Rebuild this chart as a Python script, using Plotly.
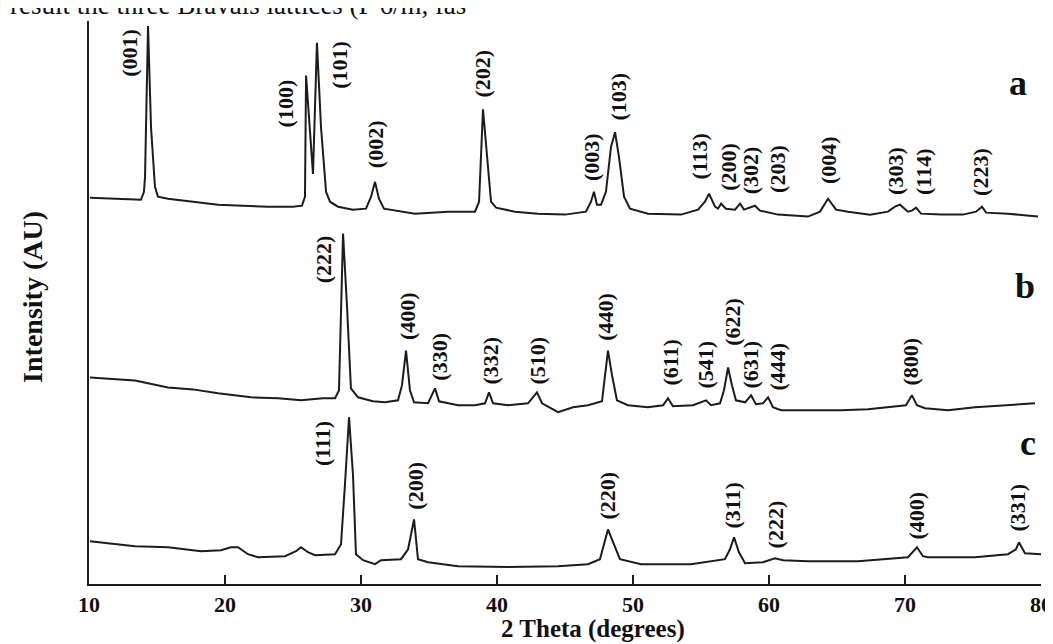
import plotly.graph_objects as go

# ---------------- data ----------------
# pattern a (hexagonal)
a_theta = [10.07, 12.13, 13.82, 14.04, 14.12, 14.34, 14.56, 14.85, 15.07, 15.81, 17.65, 19.49, 21.32,
           23.16, 25.0, 25.66, 25.88, 25.96, 26.47, 26.76, 27.06, 27.43, 27.72, 28.31, 29.41, 30.37,
           30.74, 31.03, 31.32, 31.69, 33.97, 36.4, 38.38, 38.68, 38.97, 39.19, 39.56, 39.93, 41.32,
           43.01, 45.0, 46.54, 46.91, 47.13, 47.35, 47.65, 48.01, 48.38, 48.68, 48.97, 49.34, 49.78,
           51.1, 53.53, 54.78, 55.29, 55.59, 56.03, 56.25, 56.47, 56.84, 57.5, 57.87, 58.16, 58.6,
           58.97, 59.34, 60.66, 62.87, 63.75, 64.34, 64.93, 65.81, 67.43, 68.75, 69.26, 69.63, 70.22,
           70.51, 70.81, 71.18, 72.65, 74.26, 75.22, 75.66, 75.96, 77.57, 79.78]
a_int = [389, 388, 387, 395, 410, 562, 460, 400, 390, 388, 385, 382, 381,
         380, 380, 381, 390, 512, 413, 545, 460, 395, 385, 380, 377, 378,
         390, 405, 388, 378, 373, 375, 375, 385, 478, 440, 385, 379, 375,
         373, 372, 375, 385, 395, 382, 382, 395, 440, 455, 430, 390, 378,
         373, 372, 377, 385, 393, 380, 378, 383, 378, 377, 383, 377, 379,
         381, 376, 372, 370, 375, 388, 377, 375, 372, 375, 380, 382, 375,
         376, 379, 373, 372, 372, 375, 380, 374, 373, 370]

# pattern b (cubic, bixbyite-like)
b_theta = [10.07, 13.38, 15.81, 17.65, 19.49, 21.91, 23.9, 25.59, 27.21, 28.09, 28.38, 28.68, 28.97,
           29.26, 29.78, 30.88, 31.76, 32.72, 33.01, 33.31, 33.6, 33.9, 34.93, 35.44, 35.74, 37.13,
           38.38, 39.12, 39.41, 39.71, 40.81, 42.28, 42.94, 43.31, 44.49, 45.59, 46.69, 47.72, 48.16,
           48.46, 48.82, 49.63, 51.1, 52.21, 52.57, 52.94, 54.41, 55.37, 55.74, 56.4, 56.69, 56.99,
           57.28, 57.57, 58.24, 58.68, 59.04, 59.56, 59.93, 60.29, 60.88, 62.87, 65.29, 67.28, 68.97,
           70.07, 70.51, 70.88, 71.47, 73.16, 75.15, 77.06, 79.56]
b_int = [208, 205, 198, 196, 192, 188, 187, 185, 187, 187, 195, 353, 280,
         197, 188, 184, 183, 185, 200, 235, 195, 183, 182, 197, 184, 180,
         180, 182, 193, 182, 180, 182, 193, 182, 173, 178, 180, 184, 235,
         210, 185, 180, 178, 180, 187, 179, 180, 185, 180, 182, 195, 218,
         200, 185, 183, 190, 181, 182, 188, 178, 175, 175, 175, 176, 178,
         180, 190, 180, 177, 175, 178, 180, 182]

# pattern c (fluorite-type)
c_theta = [10.07, 13.38, 15.81, 18.24, 19.71, 20.44, 20.96, 21.69, 22.43, 24.41, 25.22, 25.59, 26.1,
           26.62, 28.09, 28.53, 28.82, 29.12, 29.41, 29.63, 30.15, 31.03, 31.47, 32.94, 33.46, 33.9,
           34.19, 34.93, 37.13, 40.81, 44.49, 46.69, 47.57, 48.16, 48.6, 49.04, 50.59, 54.26, 56.76,
           57.13, 57.43, 57.79, 58.24, 59.56, 60.44, 61.03, 62.87, 66.54, 70.22, 70.88, 71.32, 71.69,
           75.15, 77.57, 78.16, 78.38, 78.82, 80.0]
c_int = [43, 38, 37, 33, 34, 37, 37, 30, 27, 28, 33, 37, 32,
         29, 30, 40, 100, 168, 110, 30, 24, 20, 24, 25, 35, 65,
         25, 22, 18, 17, 18, 20, 25, 55, 40, 25, 20, 20, 25,
         35, 47, 32, 21, 22, 26, 24, 23, 23, 27, 37, 28, 27,
         27, 30, 35, 42, 31, 30]

# Miller-index labels: text, label centre (2theta, intensity)
a_hkl = ["(001)", "(100)", "(101)", "(002)", "(202)", "(003)", "(103)", "(113)",
         "(200)", "(302)", "(203)", "(004)", "(303)", "(114)", "(223)"]
a_hkl_x = [13.01, 24.41, 28.46, 31.03, 38.97, 46.91, 48.9, 54.82, 57.05, 58.7, 60.66, 64.34, 69.34, 71.4, 75.59]
a_hkl_y = [535, 484, 523, 443, 514, 430, 491, 430, 420, 417, 418, 427, 416, 415, 415]

b_hkl = ["(222)", "(400)", "(330)", "(332)", "(510)", "(440)", "(611)", "(541)",
         "(622)", "(631)", "(444)", "(800)"]
b_hkl_x = [27.21, 33.46, 35.81, 39.56, 43.01, 48.01, 52.79, 55.37, 57.35, 58.68, 60.66, 70.44]
b_hkl_y = [327, 270, 229, 225, 225, 269, 223, 221, 264, 221, 219, 224]

c_hkl = ["(111)", "(200)", "(220)", "(311)", "(222)", "(400)", "(331)"]
c_hkl_x = [27.21, 34.04, 48.16, 57.35, 60.44, 70.81, 78.31]
c_hkl_y = [141, 99, 89, 79, 60, 69, 77]

sample_names = ["a", "b", "c"]
sample_x = [78.31, 78.82, 79.04]
sample_y = [505, 300, 142]

x_ticks = [10, 20, 30, 40, 50, 60, 70, 80]

# ---------------- figure ----------------
LINE = "#1c1c1c"
SERIF = "Liberation Serif, Times New Roman, serif"

fig = go.Figure()
for xs, ys in [(a_theta, a_int), (b_theta, b_int), (c_theta, c_int)]:
    fig.add_trace(go.Scatter(x=xs, y=ys, mode="lines",
                             line=dict(color=LINE, width=2), showlegend=False,
                             hoverinfo="skip"))

ann = []
for labels, lx, ly in [(a_hkl, a_hkl_x, a_hkl_y), (b_hkl, b_hkl_x, b_hkl_y), (c_hkl, c_hkl_x, c_hkl_y)]:
    for t, x, y in zip(labels, lx, ly):
        ann.append(dict(x=x, y=y, xref="x", yref="y", text="<b>%s</b>" % t, showarrow=False,
                        textangle=-90, xanchor="center", yanchor="middle",
                        font=dict(family=SERIF, size=22, color="#111")))
for t, x, y in zip(sample_names, sample_x, sample_y):
    ann.append(dict(x=x, y=y, xref="x", yref="y", text="<b>%s</b>" % t, showarrow=False,
                    xanchor="center", yanchor="middle",
                    font=dict(family=SERIF, size=36, color="#111")))

# axis titles (paper coords; plot area spans 13..576 px vertically)
ann.append(dict(x=-0.0588, y=0.51, xref="paper", yref="paper", text="<b>Intensity (AU)</b>",
                showarrow=False, textangle=-90, xanchor="center", yanchor="middle",
                font=dict(family=SERIF, size=28, color="#111")))
ann.append(dict(x=0.529, y=-0.08, xref="paper", yref="paper", text="<b>2 Theta (degrees)</b>",
                showarrow=False, xanchor="center", yanchor="middle",
                font=dict(family=SERIF, size=25, color="#111")))
# clipped caption line from the page above the figure
ann.append(dict(x=-0.085, y=1.029, xref="paper", yref="paper",
                text="result the three Bravais lattices (P 6/m, fas",
                showarrow=False, xanchor="left", yanchor="middle",
                font=dict(family=SERIF, size=27, color="#111")))

fig.update_layout(
    width=1053, height=644,
    margin=dict(l=81, r=20, t=13, b=68),
    paper_bgcolor="white", plot_bgcolor="white",
    annotations=ann,
    xaxis=dict(range=[10, 80], tickvals=x_ticks, ticktext=["<b>%d</b>" % v for v in x_ticks],
               ticks="inside", ticklen=9, tickwidth=2, tickcolor=LINE,
               showline=True, linecolor=LINE, linewidth=2, showgrid=False, zeroline=False,
               tickfont=dict(family=SERIF, size=22, color="#111"), automargin=False),
    yaxis=dict(range=[0, 567], showticklabels=False, ticks="", showline=True,
               linecolor=LINE, linewidth=2, showgrid=False, zeroline=False, automargin=False),
)

fig.write_html("out.html")
